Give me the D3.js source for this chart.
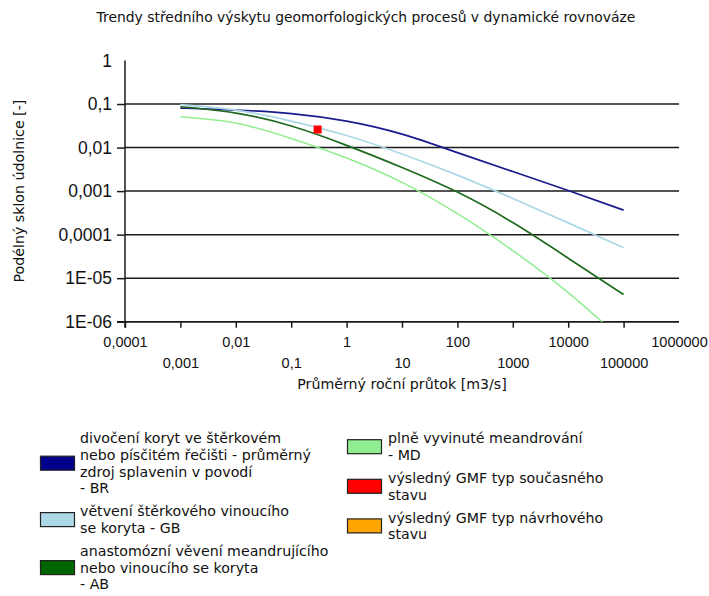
<!DOCTYPE html>
<html>
<head>
<meta charset="utf-8">
<script src="https://cdn.jsdelivr.net/npm/d3@7"></script>
<style>
  body { margin: 0; background: #fff; }
  svg text { font-family: "DejaVu Sans", Verdana, sans-serif; fill: #111; }
  svg .num text { font-family: "Liberation Sans", Arial, sans-serif; }
</style>
</head>
<body>
<svg id="chart" width="709" height="596"></svg>
<script>
// Mean annual discharge [m3/s] at which each process trend is evaluated
const discharge = [0.001, 0.01, 0.1, 1, 10, 100, 1000, 10000, 100000];

// Valley slope [-] for each geomorphological process type
const slopeBR = [0.0809, 0.0728, 0.0605, 0.0406, 0.0204, 0.00767, 0.00281, 0.00103, 0.000366];
const slopeGB = [0.0974, 0.0728, 0.0406, 0.0189, 0.0071, 0.00233, 0.000679, 0.000186, 0.0000498];
const slopeAB = [0.0867, 0.0621, 0.0312, 0.01125, 0.00349, 0.000948, 0.000189, 0.0000288, 0.00000422];
const slopeMD = [0.0511, 0.0366, 0.0161, 0.00574, 0.00158, 0.000302, 0.0000429, 0.00000467, 0.000000358];

// Resulting GMF type: current state and design state
const currentDischarge = [0.3];
const currentSlope = [0.026];
const designDischarge = [];
const designSlope = [];

// Axis ticks and labels
const xTicks = [0.0001, 0.001, 0.01, 0.1, 1, 10, 100, 1000, 10000, 100000, 1000000];
const xTickLabels = ["0,0001", "0,001", "0,01", "0,1", "1", "10", "100", "1000", "10000", "100000", "1000000"];
const yTicks = [1, 0.1, 0.01, 0.001, 0.0001, 0.00001, 0.000001];
const yTickLabels = ["1", "0,1", "0,01", "0,001", "0,0001", "1E-05", "1E-06"];

const chartTitle = "Trendy středního výskytu geomorfologických procesů v dynamické rovnováze";
const xTitle = "Průměrný roční průtok [m3/s]";
const yTitle = "Podélný sklon údolnice [-]";

// Legend entries (text lines) and colours
const legendLeft = [
  { lines: ["divočení koryt ve štěrkovém", "nebo písčitém řečišti - průměrný", "zdroj splavenin v povodí", "- BR"], color: "#00008B" },
  { lines: ["větvení štěrkového vinoucího", "se koryta - GB"], color: "#ADD8E6" },
  { lines: ["anastomózní věvení meandrujícího", "nebo vinoucího se koryta", "- AB"], color: "#006400" }
];
const legendRight = [
  { lines: ["plně vyvinuté meandrování", "- MD"], color: "#90EE90" },
  { lines: ["výsledný GMF typ současného", "stavu"], color: "#FF0000" },
  { lines: ["výsledný GMF typ návrhového", "stavu"], color: "#FFA500" }
];

const series = [
  { values: slopeBR, color: "#1a1a8f", width: 1.7 },
  { values: slopeGB, color: "#ADD8E6", width: 1.7 },
  { values: slopeAB, color: "#1f6b1f", width: 1.7 },
  { values: slopeMD, color: "#90EE90", width: 1.5 }
];

const svg = d3.select("#chart");
const textSize = "14.2px";

const plot = { left: 125, right: 679, top: 60.5, bottom: 321.7 };

const x = d3.scaleLog().domain([0.0001, 1000000]).range([plot.left, plot.right]);
const y = d3.scaleLog().domain([0.000001, 1]).range([plot.bottom, plot.top]);

// Title
svg.append("text")
  .attr("x", 366).attr("y", 17)
  .attr("text-anchor", "middle").attr("dominant-baseline", "central")
  .style("font-size", "13.9px")
  .text(chartTitle);

// Horizontal grid lines at each decade below 1
svg.append("g")
  .selectAll("line")
  .data(yTicks.filter(v => v < 1))
  .join("line")
  .attr("x1", plot.left).attr("x2", plot.right)
  .attr("y1", d => y(d)).attr("y2", d => y(d))
  .attr("stroke", "#1a1a1a").attr("stroke-width", 1.5);

// Y axis
const yAxis = svg.append("g")
  .attr("class", "num")
  .attr("transform", `translate(${plot.left},0)`)
  .call(d3.axisLeft(y)
    .tickValues(yTicks)
    .tickFormat((d, i) => yTickLabels[i])
    .tickSizeInner(8).tickSizeOuter(0).tickPadding(5));
yAxis.select(".domain").remove();
yAxis.selectAll(".tick line").attr("stroke", "#1a1a1a").attr("stroke-width", 1.5)
  .filter(d => d === 1).remove();
yAxis.selectAll(".tick text")
  .style("font-size", "17.5px")
  .attr("fill", "#111");

// X axis
const xAxis = svg.append("g")
  .attr("class", "num")
  .attr("transform", `translate(0,${plot.bottom})`)
  .call(d3.axisBottom(x)
    .tickValues(xTicks)
    .tickFormat((d, i) => xTickLabels[i])
    .tickSizeInner(6).tickSizeOuter(0).tickPadding(0));
xAxis.select(".domain").remove();
xAxis.selectAll(".tick line").attr("stroke", "#1a1a1a").attr("stroke-width", 1.5)
  .filter(d => d === 1000000).remove();
xAxis.selectAll(".tick text")
  .style("font-size", "14.5px")
  .attr("fill", "#111")
  .attr("dy", null)
  .attr("dominant-baseline", "central")
  .attr("y", (d, i) => i % 2 === 0 ? 20 : 41);

// Axis lines
svg.append("line")
  .attr("x1", plot.left - 8).attr("x2", plot.right)
  .attr("y1", plot.bottom).attr("y2", plot.bottom)
  .attr("stroke", "#1a1a1a").attr("stroke-width", 1.5);
svg.append("line")
  .attr("x1", plot.left).attr("x2", plot.left)
  .attr("y1", plot.top).attr("y2", plot.bottom + 6)
  .attr("stroke", "#1a1a1a").attr("stroke-width", 1.5);

// Axis titles
svg.append("text")
  .attr("x", (plot.left + plot.right) / 2).attr("y", 384)
  .attr("text-anchor", "middle").attr("dominant-baseline", "central")
  .style("font-size", textSize)
  .text(xTitle);
svg.append("text")
  .attr("transform", `translate(19,${(plot.top + plot.bottom) / 2}) rotate(-90)`)
  .attr("text-anchor", "middle").attr("dominant-baseline", "central")
  .style("font-size", textSize)
  .text(yTitle);

// Trend curves (smooth spline through the decade values, clipped to the plot)
svg.append("defs").append("clipPath").attr("id", "plotClip")
  .append("rect")
  .attr("x", plot.left).attr("y", plot.top)
  .attr("width", plot.right - plot.left).attr("height", plot.bottom - plot.top);

const line = d3.line()
  .x(d => x(d[0]))
  .y(d => y(d[1]))
  .curve(d3.curveNatural);

svg.append("g").attr("clip-path", "url(#plotClip)")
  .selectAll("path")
  .data(series)
  .join("path")
  .attr("d", s => line(discharge.map((q, i) => [q, s.values[i]])))
  .attr("fill", "none")
  .attr("stroke", s => s.color)
  .attr("stroke-width", s => s.width);

// GMF type markers
const marker = 8;
svg.append("g").selectAll("rect")
  .data(currentDischarge.map((q, i) => [q, currentSlope[i]]))
  .join("rect")
  .attr("x", d => x(d[0]) - marker / 2).attr("y", d => y(d[1]) - marker / 2)
  .attr("width", marker).attr("height", marker)
  .attr("fill", "#FF0000");
svg.append("g").selectAll("rect")
  .data(designDischarge.map((q, i) => [q, designSlope[i]]))
  .join("rect")
  .attr("x", d => x(d[0]) - marker / 2).attr("y", d => y(d[1]) - marker / 2)
  .attr("width", marker).attr("height", marker)
  .attr("fill", "#FFA500");

// Legend
const lineH = 16.8, entryGap = 6, swW = 34, swH = 14;
function drawLegend(entries, swatchX, textX, top) {
  let cy = top;
  entries.forEach(e => {
    const g = svg.append("g");
    const blockMid = cy + (e.lines.length - 1) * lineH / 2;
    g.append("rect")
      .attr("x", swatchX).attr("y", blockMid - swH / 2)
      .attr("width", swW).attr("height", swH)
      .attr("fill", e.color).attr("stroke", "#222").attr("stroke-width", 1.2);
    e.lines.forEach((t, i) => {
      g.append("text")
        .attr("x", textX).attr("y", cy + i * lineH)
        .attr("dominant-baseline", "central")
        .style("font-size", textSize)
        .text(t);
    });
    cy += e.lines.length * lineH + entryGap;
  });
}
drawLegend(legendLeft, 40.5, 80, 438);
drawLegend(legendRight, 347.5, 388, 438.3);
</script>
</body>
</html>
